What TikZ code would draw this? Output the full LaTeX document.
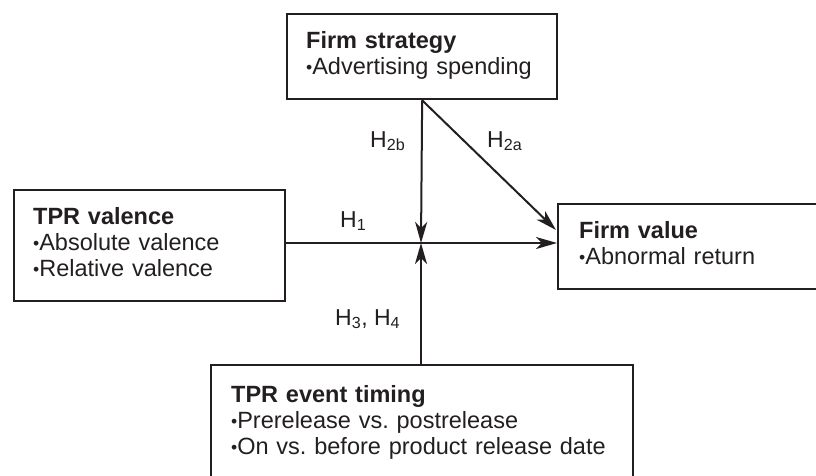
\documentclass[tikz,border=0pt]{standalone}
\usepackage{fontspec}
\setmainfont{Liberation Sans}
\usetikzlibrary{arrows.meta,calc}
\definecolor{ink}{RGB}{35,31,32}
\tikzset{
  box/.style={draw=ink, line width=2.3pt, rectangle, anchor=north west, align=left,
    inner xsep=0pt, inner ysep=0pt, text=ink, font=\fontsize{23.5}{25.8}\selectfont},
  conn/.style={draw=ink, line width=2pt, -{Stealth[length=21pt,width=12pt,inset=6pt]}},
  lab/.style={anchor=base west, inner sep=0pt, text=ink, font=\fontsize{23}{25.5}\selectfont},
}
\newcommand{\itm}{\raisebox{0.05em}{\scalebox{0.75}{•}}}
\newcommand{\lift}{\rule[-7pt]{0pt}{7pt}}
\frenchspacing
\begin{document}
\begin{tikzpicture}[x=1pt,y=-1pt]
\useasboundingbox (0,0) rectangle (816,475);
\clip (0,0) rectangle (816,475);
% boxes
\node[box, minimum width=270pt, minimum height=85pt, text width=270pt] (fs) at (286,13)
  {\hspace*{19pt}\textbf{Firm strategy}\\\hspace*{19pt}\itm Advertising spending\lift};
\node[box, minimum width=271pt, minimum height=111pt, text width=271pt] (tv) at (13,189)
  {\hspace*{19pt}\textbf{TPR valence}\\\hspace*{19pt}\itm Absolute valence\\\hspace*{19pt}\itm Relative valence\lift};
\node[box, minimum width=273pt, minimum height=85pt, text width=273pt] (fv) at (557,203)
  {\hspace*{21pt}\textbf{Firm value}\\\hspace*{21pt}\itm Abnormal return\lift};
\node[box, minimum width=422pt, minimum height=115pt, text width=422pt] (et) at (210,364)
  {\hspace*{20pt}\textbf{TPR event timing}\\\hspace*{20pt}\itm Prerelease vs. postrelease\\\hspace*{20pt}\itm On vs. before product release date};
% junction
\coordinate (j) at (421,243);
\coordinate (fvd) at (556,230);
% connectors
\draw[conn] (fs.south) -- (j);
\draw[conn] (fs.south) -- (fvd);
\draw[conn] (tv.east |- j) -- (fv.west |- j);
\draw[conn] (et.north -| j) -- (j);
% labels
\node[lab] (h2b) at (370,147) {H\textsubscript{2b}};
\node[lab] (h2a) at (487,147) {H\textsubscript{2a}};
\node[lab] (h1) at (340,227) {H\textsubscript{1}};
\node[lab] (h34) at (335,325) {H\textsubscript{3}, H\textsubscript{4}};
\end{tikzpicture}
\end{document}
